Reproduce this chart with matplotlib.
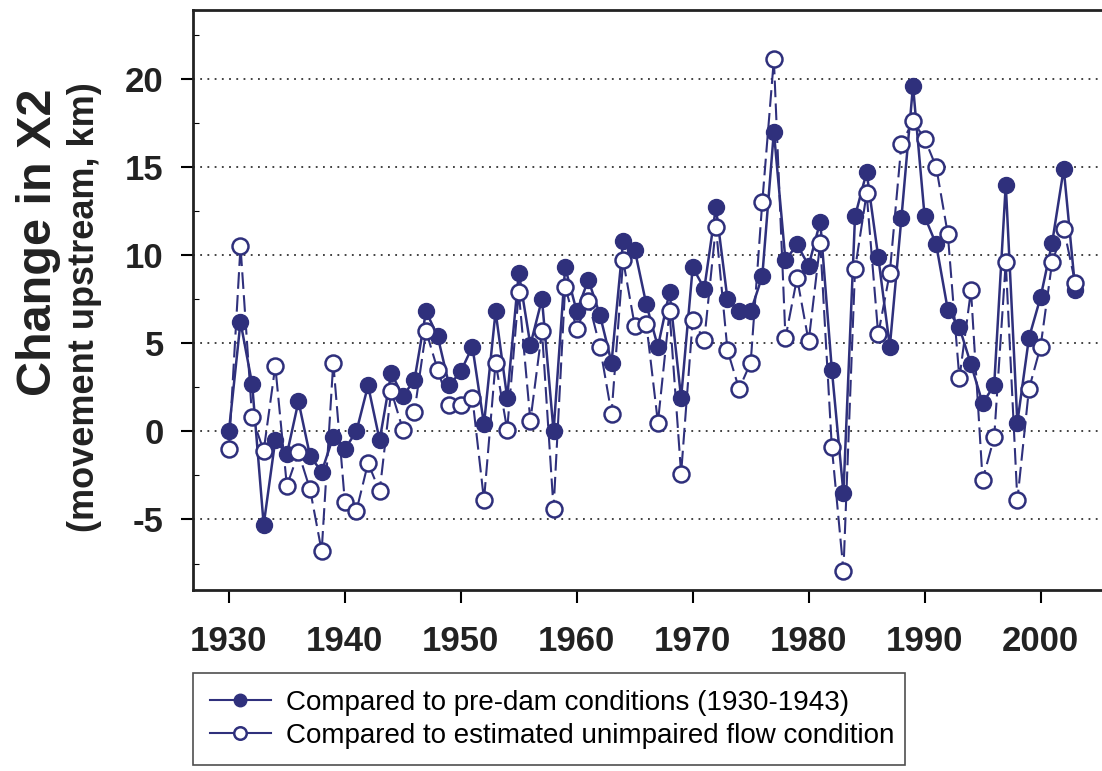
import matplotlib
matplotlib.use('Agg')
import matplotlib.pyplot as plt
import numpy as np

# years 1930-2003
years = list(range(1930, 2004))

# change vs pre-dam conditions (1930-1943), filled markers
pre_dam = [0.0, 6.2, 2.7, -5.3, -0.5, -1.3, 1.7, -1.4, -2.3, -0.3,
           -1.0, 0.0, 2.6, -0.5, 3.3, 2.0, 2.9, 6.8, 5.4, 2.6,
           3.4, 4.8, 0.4, 6.8, 1.9, 9.0, 4.9, 7.5, 0.0, 9.3,
           6.8, 8.6, 6.6, 3.9, 10.8, 10.3, 7.2, 4.8, 7.9, 1.9,
           9.3, 8.1, 12.7, 7.5, 6.8, 6.8, 8.8, 17.0, 9.7, 10.6,
           9.4, 11.9, 3.5, -3.5, 12.2, 14.7, 9.9, 4.8, 12.1, 19.6,
           12.2, 10.6, 6.9, 5.9, 3.8, 1.6, 2.6, 14.0, 0.5, 5.3,
           7.6, 10.7, 14.9, 8.0]

# change vs estimated unimpaired flow, open markers
unimpaired = [-1.0, 10.5, 0.8, -1.1, 3.7, -3.1, -1.2, -3.3, -6.8, 3.9,
              -4.0, -4.5, -1.8, -3.4, 2.3, 0.1, 1.1, 5.7, 3.5, 1.5,
              1.5, 1.9, -3.9, 3.9, 0.1, 7.9, 0.6, 5.7, -4.4, 8.2,
              5.8, 7.4, 4.8, 1.0, 9.7, 6.0, 6.1, 0.5, 6.8, -2.4,
              6.3, 5.2, 11.6, 4.6, 2.4, 3.9, 13.0, 21.1, 5.3, 8.7,
              5.1, 10.7, -0.9, -7.9, 9.2, 13.5, 5.5, 9.0, 16.3, 17.6,
              16.6, 15.0, 11.2, 3.0, 8.0, -2.75, -0.35, 9.6, -3.9, 2.4,
              4.8, 9.6, 11.5, 8.4]

x_ticks = [1930, 1940, 1950, 1960, 1970, 1980, 1990, 2000]
y_ticks = [-5, 0, 5, 10, 15, 20]

navy = '#2f307c'
plt.rcParams['font.family'] = ['Liberation Sans', 'DejaVu Sans']
plt.rcParams['axes.unicode_minus'] = False

fig = plt.figure(figsize=(11.02, 7.71), dpi=100)
ax = fig.add_axes([0.1751, 0.2348, 0.8249, 0.7522])

ax.plot(years, pre_dam, '-o', color=navy, lw=1.8, ms=11.5,
        mfc=navy, mec=navy, label='Compared to pre-dam conditions (1930-1943)', zorder=3)
ax.plot(years, unimpaired, '--o', color=navy, lw=1.5, ms=11.5, dashes=(8, 3),
        mfc='white', mec=navy, mew=1.8,
        label='Compared to estimated unimpaired flow condition', zorder=4)

ax.set_xlim(1926.9, 2005.3)
ax.set_ylim(-9.0, 23.9)
ax.set_xticks(x_ticks)
ax.set_yticks(y_ticks)
ax.set_yticks(np.arange(-7.5, 23, 2.5), minor=True)
ax.tick_params(axis='both', labelsize=25, width=1.5, length=9, direction='out', pad=12)
ax.tick_params(axis='x', pad=16)
ax.tick_params(axis='y', which='minor', length=4, width=0.8, direction='in')
for lab in ax.get_xticklabels() + ax.get_yticklabels():
    lab.set_fontweight('bold')
    lab.set_color('#222222')

ax.grid(axis='y', which='major', linestyle=(0, (1, 3)), color='#333333', lw=1.3)
ax.spines['right'].set_visible(False)
for s in ['left', 'bottom', 'top']:
    ax.spines[s].set_linewidth(2)
    ax.spines[s].set_color('#222222')

fig.text(0.035, 0.686, 'Change in X2', rotation=90, ha='center', va='center',
         fontsize=35, fontweight='bold', color='#222222')
fig.text(0.077, 0.602, '(movement upstream, km)', rotation=90, ha='center', va='center',
         fontsize=26, fontweight='bold', color='#222222')

leg = fig.legend(loc='upper left', bbox_to_anchor=(0.175, 0.008, 0.646, 0.119),
                 mode='expand', fontsize=20, frameon=True, fancybox=False,
                 edgecolor='#222222', handlelength=2.2, borderpad=0.6,
                 labelspacing=0.25, handletextpad=0.55, borderaxespad=0)
leg.get_frame().set_linewidth(1.2)
for h in leg.legend_handles:
    h.set_markersize(9)
    h.set_linestyle('-')
    h.set_linewidth(1.5)

fig.savefig('out.png', dpi=100)
